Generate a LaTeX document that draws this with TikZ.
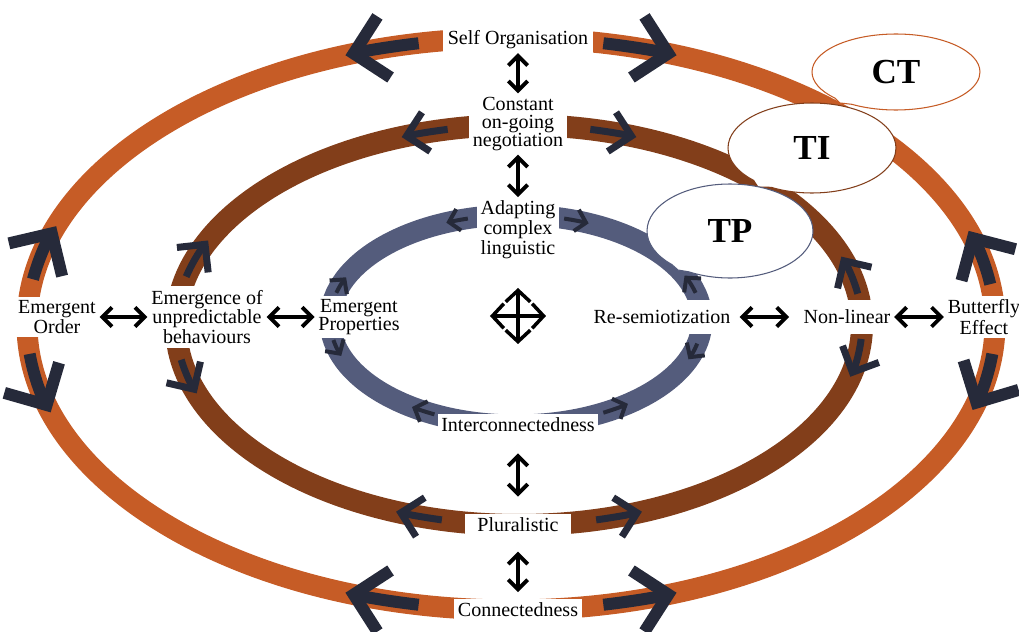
\documentclass[tikz,border=0pt]{standalone}
\usepackage{fontspec}
\setmainfont{Liberation Serif}
\usetikzlibrary{arrows.meta,shapes.callouts}
\definecolor{ringorange}{RGB}{198,92,38}
\definecolor{ringbrown}{RGB}{130,62,26}
\definecolor{ringslate}{RGB}{84,92,124}
\definecolor{arrowink}{RGB}{38,42,58}

\begin{document}
\begin{tikzpicture}[x=0.02cm, y=0.02cm,
    lbl/.style={fill=white, align=center, inner xsep=2pt, inner ysep=2pt, font=\fontsize{11.4}{10.2}\selectfont},
    dbl/.style={<->, >={Straight Barb[length=5.5pt,width=11pt]}, line width=2.2pt},
    quad/.style={<->, >={Straight Barb[length=6.5pt,width=14pt]}, line width=2pt},
    oarr/.style={draw=arrowink, line width=0.24cm, -{Straight Barb[length=0.62cm,width=1.25cm]}},
    barr/.style={draw=arrowink, line width=0.14cm, -{Straight Barb[length=0.4cm,width=0.8cm]}},
    sarr/.style={draw=arrowink, line width=0.08cm, -{Straight Barb[length=0.2cm,width=0.44cm]}},
    bubble/.style={ellipse callout, fill=white, line width=0.6pt, font=\fontsize{20}{24}\selectfont\bfseries}]
    \useasboundingbox (-518,-312) rectangle (501,320);

    % the three rings
    \coordinate (oc) at (-7,-4);
    \coordinate (bc) at (1,-5);
    \coordinate (sc) at (-2,0);
    \draw[ringorange, line width=0.42cm] (oc) ellipse [x radius=484, y radius=286];
    \draw[ringbrown, line width=0.44cm] (bc) ellipse [x radius=343, y radius=200];
    \draw[ringslate, line width=0.42cm] (sc) ellipse [x radius=186, y radius=105];

    % arrows running along the rings
    \foreach \s/\e in {101/110, 79/70, -79/-70, -101/-110, 8/19, -6/-17.5, 171/160, 186/198}
        \draw[oarr] (oc) ++(\s:484 and 286) arc[start angle=\s, end angle=\e, x radius=484, y radius=286];
    \foreach \s/\e in {102/110, 78/70, -77/-69, -103/-111, 9/20, -4/-15, 166/155, 190/200}
        \draw[barr] (bc) ++(\s:343 and 200) arc[start angle=\s, end angle=\e, x radius=343, y radius=200];
    \foreach \s/\e in {105/112, 75/67, -62/-53, -116/-124, 15/25, -13/-22, 165/156, 191/200}
        \draw[sarr] (sc) ++(\s:186 and 105) arc[start angle=\s, end angle=\e, x radius=186, y radius=105];

    % labels
    \node[lbl, minimum width=3.02cm] (self) at (0,280) {Self Organisation};
    \node[lbl, minimum width=1.98cm] (const) at (0,196) {Constant\\on-going\\negotiation};
    \node[lbl, minimum width=1.66cm] (adapt) at (0,90) {Adapting\\complex\\linguistic};
    \node[lbl, minimum width=3.18cm] (inter) at (0,-105) {Interconnectedness};
    \node[lbl, minimum width=2.14cm] (plur) at (0,-205) {Pluralistic};
    \node[lbl, minimum width=2.5cm] (conn) at (0,-290) {Connectedness};
    \node[lbl] (eorder) at (-461,3) {Emergent\\Order};
    \node[lbl] (eunp) at (-311,3) {Emergence of\\unpredictable\\behaviours};
    \node[lbl] (eprop) at (-159,3) {Emergent\\Properties};
    \node[lbl, minimum height=0.7cm] (resem) at (144,3) {Re-semiotization};
    \node[lbl, minimum height=0.7cm] (nonlin) at (329,3) {Non-linear};
    \node[lbl] (butter) at (466,3) {Butterfly\\Effect};

    % two-way links
    \draw[dbl] (self) -- (const);
    \draw[dbl] (const) -- (adapt);
    \draw[dbl, shorten <=10pt, shorten >=10pt] (inter) -- (plur);
    \draw[dbl, shorten <=9pt, shorten >=4pt] (plur) -- (conn);
    \draw[dbl] (eorder) -- (eunp);
    \draw[dbl] (eunp) -- (eprop);
    \draw[dbl, shorten <=3pt, shorten >=6pt] (resem) -- (nonlin);
    \draw[dbl] (nonlin) -- (butter);

    % four-way sign in the middle
    \coordinate (hub) at (0,4);
    \draw[quad] (hub) ++(-28,0) -- ++(56,0);
    \draw[quad] (hub) ++(0,-28) -- ++(0,56);

    % callouts
    \node[bubble, draw=ringorange, minimum width=3.36cm, minimum height=1.52cm,
          callout absolute pointer={(322,217)}] (ct) at (378,248) {CT};
    \node[bubble, draw=ringbrown, minimum width=3.36cm, minimum height=1.8cm,
          callout absolute pointer={(240,133)}] (ti) at (294,172) {TI};
    \node[bubble, draw=ringslate, minimum width=3.32cm, minimum height=1.88cm,
          callout absolute pointer={(160,50)}] (tp) at (212,89) {TP};
\end{tikzpicture}
\end{document}
